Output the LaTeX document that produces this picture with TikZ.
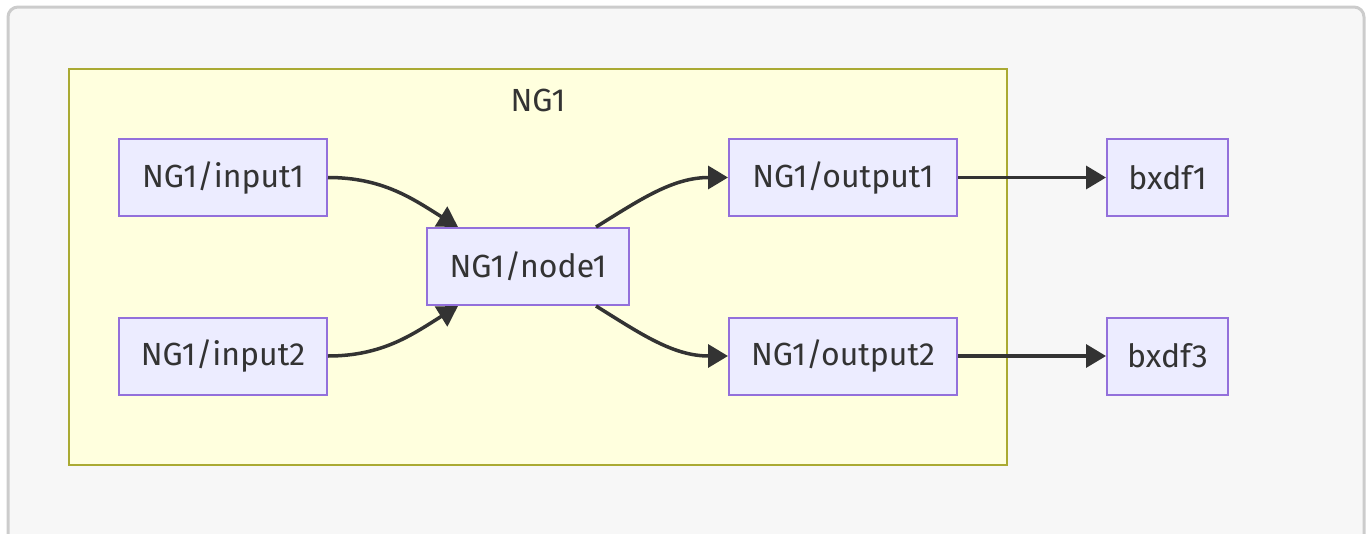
\documentclass[tikz,border=0pt]{standalone}
\usepackage{fontspec}
\setmainfont{Fira Sans}
\usetikzlibrary{arrows.meta}
\definecolor{nodefill}{HTML}{ECECFF}
\definecolor{nodeline}{HTML}{9370DB}
\definecolor{clusterfill}{HTML}{FFFFDE}
\definecolor{clusterline}{HTML}{AAAA33}
\definecolor{txt}{HTML}{333333}
\definecolor{edge}{HTML}{333333}
\definecolor{bgfill}{HTML}{F7F7F7}
\definecolor{bgline}{HTML}{CCCCCC}
\tikzset{
  lbl/.style={text=txt, font=\fontsize{32}{38}\selectfont},
  box/.style={lbl, draw=nodeline, fill=nodefill, line width=2pt,
    inner sep=0pt, minimum height=77pt},
  link/.style={draw=edge, line width=3.5pt, -{Triangle[length=20pt,width=23pt]}},
}
\begin{document}
\begin{tikzpicture}[x=1pt,y=-1pt]
\useasboundingbox (0,0) rectangle (1370,533);
% outer frame
\draw[bgline, fill=bgfill, line width=3pt, rounded corners=10pt] (8,7) rectangle (1364,560);
% cluster
\draw[clusterline, fill=clusterfill, line width=2pt] (69,69) rectangle (1007,465);
\node[lbl] (ng1) at (538,100) {NG1};
% nodes
\node[box, minimum width=208pt] (in1) at (223,177.5) {NG1/input1};
\node[box, minimum width=208pt] (in2) at (223,356) {NG1/input2};
\node[box, minimum width=202pt] (n1) at (528,266.5) {NG1/node1};
\node[box, minimum width=228pt] (out1) at (843,177.5) {NG1/output1};
\node[box, minimum width=228pt] (out2) at (843,356) {NG1/output2};
\node[box, minimum width=121pt] (b1) at (1167.5,177.5) {bxdf1};
\node[box, minimum width=121pt] (b3) at (1167.5,356) {bxdf3};
% anchor points on node1
\coordinate (n1tl) at ([xshift=32pt]n1.north west);
\coordinate (n1bl) at ([xshift=32pt]n1.south west);
\coordinate (n1tr) at ([xshift=-34pt]n1.north east);
\coordinate (n1br) at ([xshift=-34pt]n1.south east);
% edges
\draw[link] (in1.east) .. controls +(55,0) and +(-45,-28) .. (n1tl);
\draw[link] (in2.east) .. controls +(55,0) and +(-45,28) .. (n1bl);
\draw[link] (n1tr) .. controls +(45,-28) and +(-55,0) .. (out1.west);
\draw[link] (n1br) .. controls +(45,28) and +(-55,0) .. (out2.west);
\draw[link] (out1.east) -- (b1.west);
\draw[link] (out2.east) -- (b3.west);
\end{tikzpicture}
\end{document}
